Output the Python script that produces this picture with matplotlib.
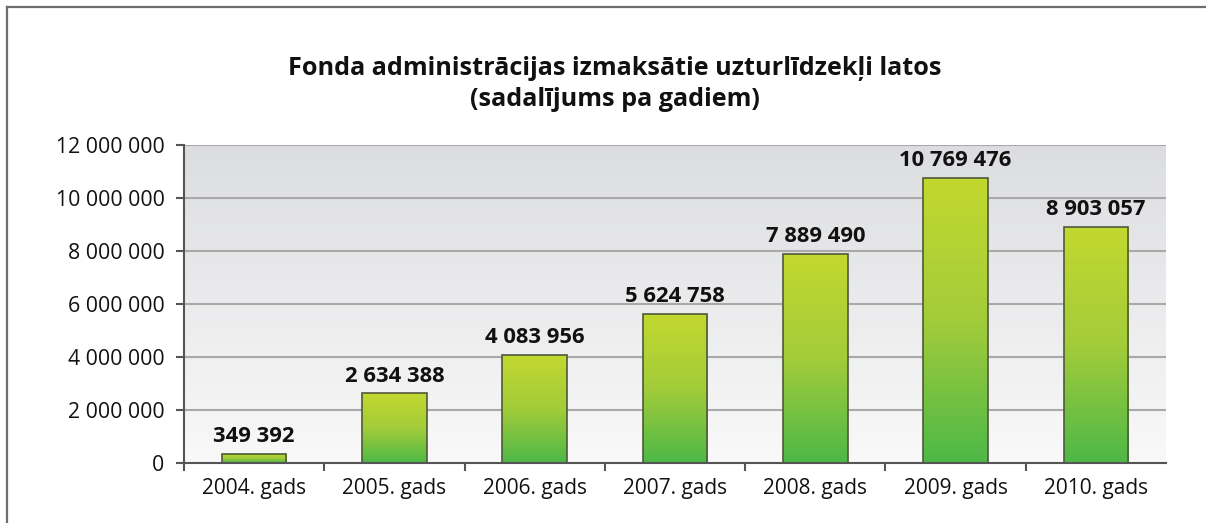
import numpy as np
import matplotlib.pyplot as plt
from matplotlib.colors import LinearSegmentedColormap
from matplotlib.lines import Line2D

years = ["2004. gads", "2005. gads", "2006. gads", "2007. gads",
         "2008. gads", "2009. gads", "2010. gads"]
values = [349392, 2634388, 4083956, 5624758, 7889490, 10769476, 8903057]
y_ticks = [0, 2000000, 4000000, 6000000, 8000000, 10000000, 12000000]

title = "Fonda administrācijas izmaksātie uzturlīdzekļi latos\n(sadalījums pa gadiem)"

plt.rcParams["font.family"] = ["Open Sans", "DejaVu Sans"]


def fmt(v):
    return f"{v:,}".replace(",", " ")


fig = plt.figure(figsize=(12.06, 5.23), dpi=100)
ax = fig.add_axes([0.1526, 0.1147, 0.8142, 0.6081])

n = len(years)
x = np.arange(n)
ax.set_xlim(-0.5, n - 0.5)
ax.set_ylim(0, 12000000)

# background gradient of plot area
bg = LinearSegmentedColormap.from_list("bg", ["#f9f9f9", "#dcdde0"])
grad = np.linspace(0, 1, 256).reshape(-1, 1)
ax.imshow(grad, cmap=bg, aspect="auto", origin="lower",
          extent=[-0.5, n - 0.5, 0, 12000000], zorder=0)

for t in y_ticks[1:]:
    ax.axhline(t, color="#a9a9a9", lw=1.5, zorder=1)

# bars with vertical green gradient
bar_cmap = LinearSegmentedColormap.from_list("bar", ["#4db848", "#a3cc3a", "#c3d82f"])
bars = ax.bar(x, values, width=0.46, facecolor="none", edgecolor="#4f5a38",
              linewidth=1.2, zorder=3)
for b, v in zip(bars, values):
    im = ax.imshow(grad, cmap=bar_cmap, aspect="auto", origin="lower",
                   extent=[b.get_x(), b.get_x() + b.get_width(), 0, v], zorder=2)
    im.set_clip_path(b)
    ax.text(b.get_x() + b.get_width() / 2, v + 250000, fmt(v),
            ha="center", va="bottom", fontsize=15.8, fontweight="bold", color="#111111")

ax.set_xlim(-0.5, n - 0.5)
ax.set_ylim(0, 12000000)

ax.set_yticks(y_ticks)
ax.set_yticklabels([fmt(t) for t in y_ticks])
ax.set_xticks(x)
ax.set_xticklabels(years)
ax.set_xticks(np.arange(-0.5, n - 1, 1.0), minor=True)
ax.tick_params(axis="x", which="major", length=0, pad=11, labelsize=15, colors="#111111")
ax.tick_params(axis="x", which="minor", length=6, width=1.5, color="#555555", direction="out")
ax.tick_params(axis="y", length=6, width=1.5, color="#555555", pad=8,
               labelsize=15.3, labelcolor="#111111")

for s in ["top", "right"]:
    ax.spines[s].set_visible(False)
for s in ["left", "bottom"]:
    ax.spines[s].set_color("#555555")
    ax.spines[s].set_linewidth(1.5)
    ax.spines[s].set_zorder(4)

fig.text(0.51, 0.84, title, ha="center", va="center", fontsize=18.2,
         fontweight="bold", color="#111111", linespacing=1.3)

# frame lines on top and left of the figure
fig.add_artist(Line2D([7 / 1206, 7 / 1206], [0, 1 - 7 / 523], color="#6e6e6e", lw=1.6))
fig.add_artist(Line2D([7 / 1206, 1], [1 - 7 / 523, 1 - 7 / 523], color="#6e6e6e", lw=1.6))

fig.savefig("out.png", dpi=100)
